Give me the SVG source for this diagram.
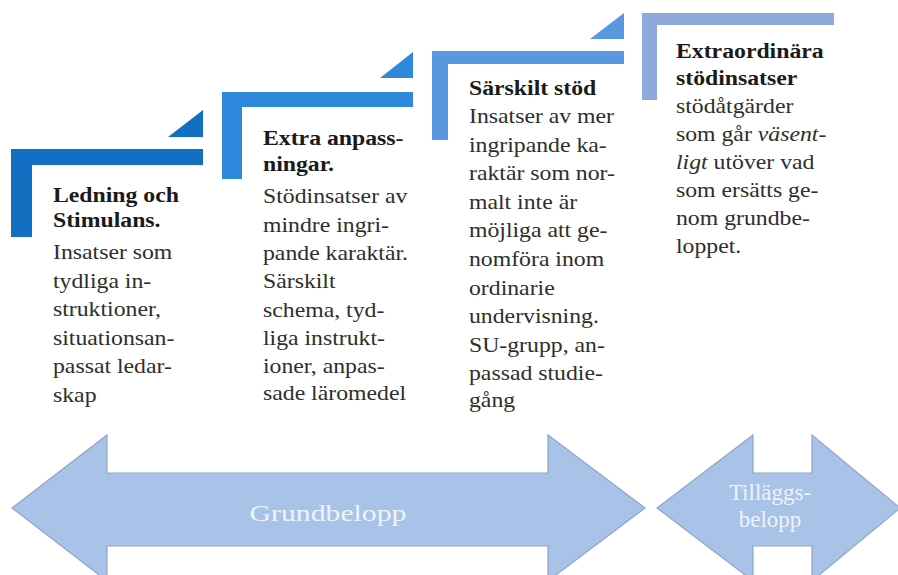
<svg xmlns="http://www.w3.org/2000/svg" width="898" height="575" viewBox="0 0 898 575">
<style>
  .t { font-size: 22px; fill: #2e2e2e; }
  .b { font-weight: bold; fill: #1a1a1a; }
  .arrow { fill: #A8C3E7; stroke: #8FA6C8; stroke-width: 1.2; }
  .at { font-size: 23px; fill: #EEF3FA; text-anchor: middle; }
</style>
<rect width="898" height="575" fill="#ffffff"/>

<g id="step1">
  <path d="M11,149 H203 V165 H32 V237 H11 Z" fill="#1270C2"/>
  <path d="M168,137 H203 V110 Z" fill="#1270C2"/>
  <text class="t" style="font-family:'Liberation Serif', serif" transform="matrix(1.08 0 0 1 53 0)">
    <tspan class="b" x="0" y="202">Ledning och</tspan>
    <tspan class="b" x="0" y="227">Stimulans.</tspan>
    <tspan x="0" y="259">Insatser som</tspan>
    <tspan x="0" y="288">tydliga in-</tspan>
    <tspan x="0" y="316">struktioner,</tspan>
    <tspan x="0" y="345">situationsan-</tspan>
    <tspan x="0" y="373">passat ledar-</tspan>
    <tspan x="0" y="402">skap</tspan>
  </text>
</g>

<g id="step2">
  <path d="M222,92 H413 V107 H242 V179 H222 Z" fill="#2E88DC"/>
  <path d="M380,78 H413 V52 Z" fill="#2E88DC"/>
  <text class="t" style="font-family:'Liberation Serif', serif" transform="matrix(1.08 0 0 1 263 0)">
    <tspan class="b" x="0" y="145">Extra anpass-</tspan>
    <tspan class="b" x="0" y="171">ningar.</tspan>
    <tspan x="0" y="203">Stödinsatser av</tspan>
    <tspan x="0" y="232">mindre ingri-</tspan>
    <tspan x="0" y="260">pande karaktär.</tspan>
    <tspan x="0" y="288">Särskilt</tspan>
    <tspan x="0" y="317">schema, tyd-</tspan>
    <tspan x="0" y="345">liga instrukt-</tspan>
    <tspan x="0" y="373">ioner, anpas-</tspan>
    <tspan x="0" y="400">sade läromedel</tspan>
  </text>
</g>

<g id="step3">
  <path d="M432,51 H624 V64 H448 V140 H432 Z" fill="#5898DE"/>
  <path d="M590,39 H624 V13 Z" fill="#5898DE"/>
  <text class="t" style="font-family:'Liberation Serif', serif" transform="matrix(1.08 0 0 1 469 0)">
    <tspan class="b" x="0" y="95">Särskilt stöd</tspan>
    <tspan x="0" y="123">Insatser av mer</tspan>
    <tspan x="0" y="152">ingripande ka-</tspan>
    <tspan x="0" y="180">raktär som nor-</tspan>
    <tspan x="0" y="209">malt inte är</tspan>
    <tspan x="0" y="237">möjliga att ge-</tspan>
    <tspan x="0" y="266">nomföra inom</tspan>
    <tspan x="0" y="295">ordinarie</tspan>
    <tspan x="0" y="323">undervisning.</tspan>
    <tspan x="0" y="352">SU-grupp, an-</tspan>
    <tspan x="0" y="380">passad studie-</tspan>
    <tspan x="0" y="407">gång</tspan>
  </text>
</g>

<g id="step4">
  <path d="M642,13 H834 V25 H657 V100 H642 Z" fill="#8DAADA"/>
  <text class="t" style="font-family:'Liberation Serif', serif" transform="matrix(1.08 0 0 1 676 0)">
    <tspan class="b" x="0" y="58">Extraordinära</tspan>
    <tspan class="b" x="0" y="85">stödinsatser</tspan>
    <tspan x="0" y="113">stödåtgärder</tspan>
    <tspan x="0" y="141">som går <tspan font-style="italic">väsent-</tspan></tspan>
    <tspan x="0" y="169"><tspan font-style="italic">ligt</tspan> utöver vad</tspan>
    <tspan x="0" y="197">som ersätts ge-</tspan>
    <tspan x="0" y="225">nom grundbe-</tspan>
    <tspan x="0" y="253">loppet.</tspan>
  </text>
</g>

<g id="grundbelopp">
  <path class="arrow" d="M12,508 L107,435 V473 H548 V435 L645,508 L548,581 V546 H107 V581 Z"/>
  <text class="at" x="328" y="521" font-size="26" style="font-family:'Liberation Serif', serif" textLength="157" lengthAdjust="spacingAndGlyphs">Grundbelopp</text>
</g>

<g id="tillaggsbelopp">
  <path class="arrow" d="M657,508 L753,435 V473 H812 V435 L900,508 L812,581 V546 H753 V581 Z"/>
  <text class="at" x="770" y="500" style="font-family:'Liberation Serif', serif">Tilläggs-</text>
  <text class="at" x="770" y="527" style="font-family:'Liberation Serif', serif">belopp</text>
</g>

<g id="connectors"></g>
</svg>
